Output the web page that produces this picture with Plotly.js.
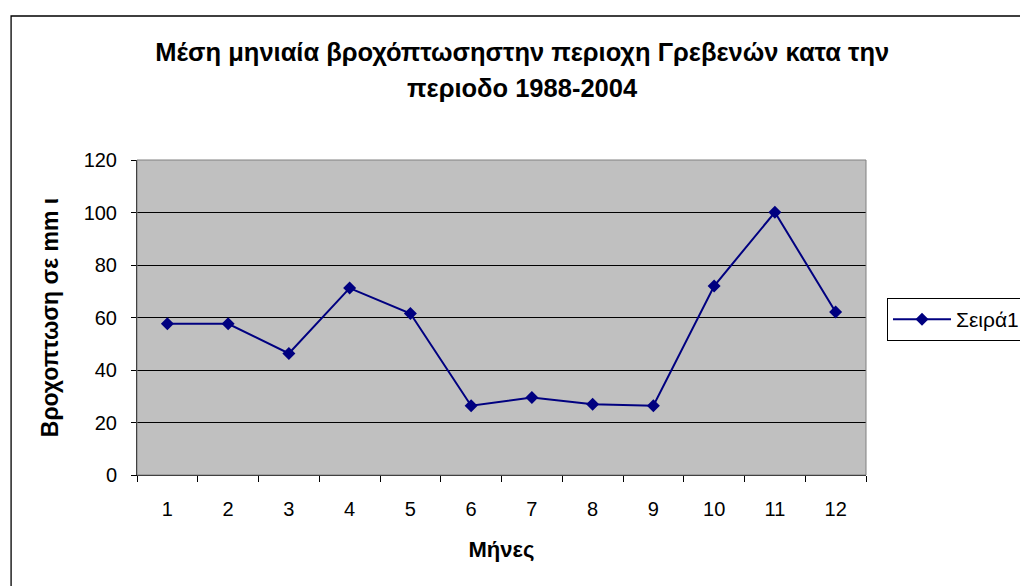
<!DOCTYPE html>
<html>
<head>
<meta charset="utf-8">
<script src="https://cdn.plot.ly/plotly-3.0.1.min.js"></script>
<style>html,body{margin:0;padding:0;background:#fff;}</style>
</head>
<body>
<div id="chart" style="width:1020px;height:586px;"></div>
<script>
const months = ["1","2","3","4","5","6","7","8","9","10","11","12"];
const rainfall = [57.6, 57.6, 46.3, 71.2, 61.5, 26.4, 29.5, 27.0, 26.4, 72.0, 100.1, 62.1];
const seriesName = "Σειρά1";
const titleLine1 = "Μέση μηνιαία βροχόπτωσηστην περιοχη Γρεβενών κατα την";
const titleLine2 = "περιοδο 1988-2004";
const xTitle = "Μήνες";
const yTitle = "Βροχοπτωση σε mm ι";

const FONT = "'Liberation Sans', Arial, sans-serif";

const trace = {
  x: months,
  y: rainfall,
  type: "scatter",
  mode: "lines+markers",
  name: seriesName,
  line: {color: "#000080", width: 2},
  marker: {symbol: "diamond", size: 10, color: "#000080"}
};

const layout = {
  width: 1020,
  height: 586,
  margin: {l: 136.5, r: 154, t: 160, b: 111, pad: 0, autoexpand: false},
  paper_bgcolor: "#ffffff",
  plot_bgcolor: "#C0C0C0",
  font: {family: FONT, size: 20, color: "#000"},
  title: {
    text: titleLine1,
    font: {family: FONT, size: 25.5, color: "#000", weight: "bold"},
    xref: "paper", x: 0.5285, xanchor: "center",
    yref: "container", y: 1 - 52/586, yanchor: "middle"
  },
  annotations: [{
    text: titleLine2,
    font: {family: FONT, size: 25.5, color: "#000", weight: "bold"},
    xref: "paper", x: 0.5285, xanchor: "center",
    yref: "paper", y: (475 - 88)/315, yanchor: "middle",
    showarrow: false
  }],
  showlegend: true,
  legend: {
    x: (887 - 136.5)/729.5, xanchor: "left",
    y: (475 - 298)/315, yanchor: "top",
    bgcolor: "#ffffff",
    bordercolor: "#000", borderwidth: 1,
    itemwidth: 58,
    font: {family: FONT, size: 21, color: "#000"}
  },
  xaxis: {
    type: "category",
    range: [-0.5, 11.5],
    tickson: "boundaries",
    ticks: "outside", ticklen: 6, tickcolor: "#000", tickwidth: 1,
    ticklabelstandoff: 16,
    showline: true, linecolor: "#000", linewidth: 1,
    showgrid: false, zeroline: false,
    tickfont: {family: FONT, size: 20, color: "#000"},
    title: {text: xTitle, standoff: 22, font: {family: FONT, size: 22, color: "#000", weight: "bold"}},
    fixedrange: true
  },
  yaxis: {
    range: [0, 120],
    tick0: 0, dtick: 20,
    ticks: "outside", ticklen: 5, tickcolor: "#000", tickwidth: 1,
    ticklabelstandoff: 10,
    showline: true, linecolor: "#000", linewidth: 1,
    showgrid: true, gridcolor: "#000", gridwidth: 1,
    zeroline: false,
    tickfont: {family: FONT, size: 20, color: "#000"},
    title: {text: yTitle, standoff: 18, font: {family: FONT, size: 23, color: "#000", weight: "bold"}},
    fixedrange: true
  },
  shapes: [
    {type: "rect", xref: "paper", yref: "paper", x0: 0, x1: 1, y0: 0, y1: 1,
     line: {color: "#808080", width: 1}, fillcolor: "rgba(0,0,0,0)", layer: "above"},
    {type: "rect", xref: "paper", yref: "paper",
     x0: (10.5 - 136.5)/729.5, x1: 2, y0: -1, y1: (475 - 16)/315,
     line: {color: "#000", width: 1.3}, fillcolor: "rgba(0,0,0,0)", layer: "above"}
  ]
};

Plotly.newPlot("chart", [trace], layout, {displayModeBar: false, staticPlot: true});
</script>
</body>
</html>
